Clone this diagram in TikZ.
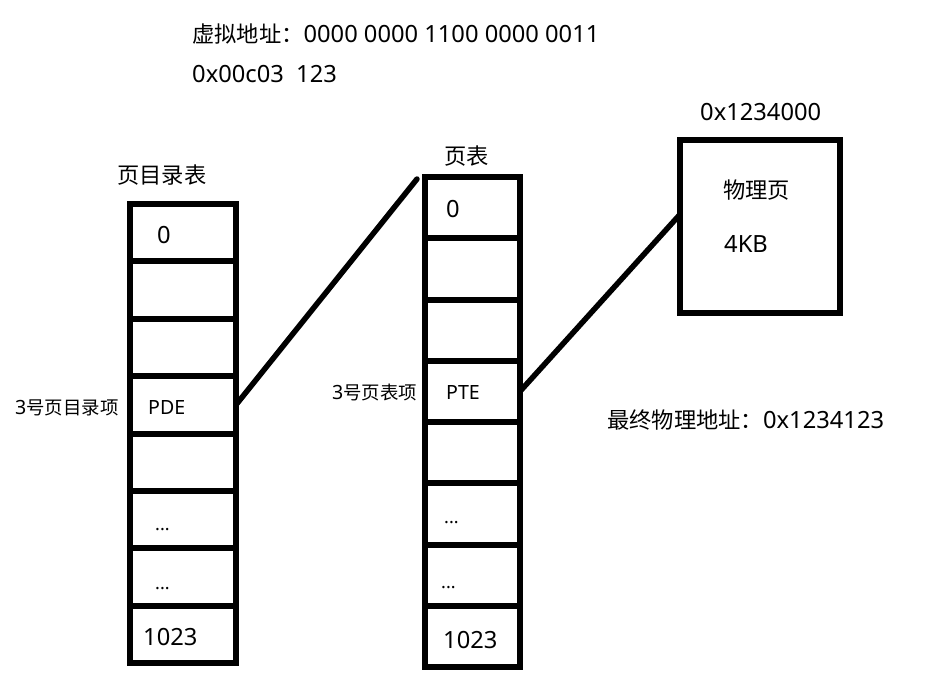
\documentclass[tikz,border=0pt]{standalone}
\usepackage{fontspec}
\setmainfont{Noto Sans}
\newfontfamily\cjk[Scale=0.94]{Noto Sans CJK SC}
\usetikzlibrary{calc}
\begin{document}
\begin{tikzpicture}[x=1pt,y=-1pt,
  cellL/.style={draw, line width=6pt, minimum width=106pt, minimum height=57.375pt, inner sep=0pt, outer sep=0pt},
  cellM/.style={draw, line width=6pt, minimum width=95pt, minimum height=61.25pt, inner sep=0pt, outer sep=0pt},
  pagebox/.style={draw, line width=6pt, minimum width=160pt, minimum height=173pt, inner sep=0pt, outer sep=0pt},
  big/.style={anchor=base west, inner sep=0pt, font=\fontsize{23.7}{23.7}\selectfont},
  small/.style={anchor=base west, inner sep=0pt, font=\fontsize{19.6}{19.6}\selectfont},
  dots/.style={anchor=base west, inner sep=0pt, font=\fontsize{18}{18}\selectfont},
  link/.style={line width=5.5pt, line cap=round}]
\useasboundingbox[fill=white] (0,0) rectangle (935,689);

% left table (page directory)
\foreach \i in {1,...,8}{
  \node[cellL] (L\i) at (183,{204+57.375*(\i-0.5)}) {};
}
% middle table (page table)
\foreach \i in {1,...,8}{
  \node[cellM] (M\i) at (472.5,{177+61.25*(\i-0.5)}) {};
}
% physical page
\node[pagebox] (P) at (760,226.5) {};

% texts
\node[big] (va) at (192,42) {{\cjk 虚拟地址：}0000 0000 1100 0000 0011};
\node[big] (vhex) at (192,82) {0x00c03\ \ 123};
\node[big] (paddr) at (700,120) {0x1234000};
\node[big] (ltitle) at (117,183) {\cjk 页目录表};
\node[big] (l0) at (157,243) {0};
\node[small] (lpde) at (148,414) {PDE};
\node[small] (lidx) at (15,414) {3{\cjk 号页目录项}};
\node[dots] (ld1) at (155,530) {...};
\node[dots] (ld2) at (155,589) {...};
\node[big] (l1023) at (143,645) {1023};
\node[big] (mtitle) at (444,164) {\cjk 页表};
\node[big] (m0) at (446,217) {0};
\node[small] (mpte) at (446,399) {PTE};
\node[small] (midx) at (332,399) {3{\cjk 号页表项}};
\node[dots] (md1) at (444,523) {...};
\node[dots] (md2) at (441,588) {...};
\node[big] (m1023) at (443,648) {1023};
\node[big] (ptext) at (723,198) {\cjk 物理页};
\node[big] (psize) at (724,252) {4KB};
\node[big] (final) at (607,428) {{\cjk 最终物理地址：}0x1234123};

% connectors
\coordinate (c1) at (417,179);
\draw[link] (L4.east) -- (c1);
\draw[link] (M4.east) -- ($(P.north west)!0.43!(P.south west)$);
\end{tikzpicture}
\end{document}
